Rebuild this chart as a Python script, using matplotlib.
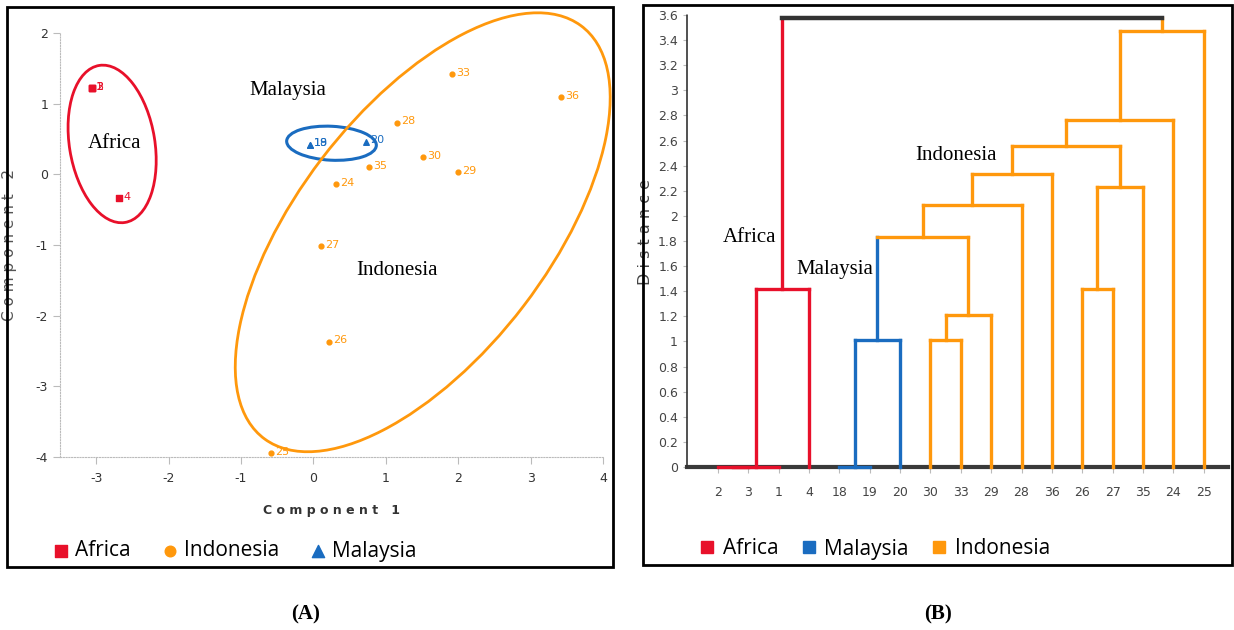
import numpy as np
import matplotlib.pyplot as plt
from matplotlib.patches import Ellipse, Rectangle
from matplotlib.lines import Line2D

plt.rcParams['axes.unicode_minus'] = False

RED = '#e8102a'
ORANGE = '#ff980c'
BLUE = '#1a6cc0'
group_colors = {'Africa': RED, 'Malaysia': BLUE, 'Indonesia': ORANGE, 'root': '#333333'}

# PCA scores (component 1, component 2)
africa_ids = ['1', '2', '3', '4']
africa_pc1 = [-3.06, -3.06, -3.06, -2.68]
africa_pc2 = [1.22, 1.22, 1.22, -0.34]

malaysia_ids = ['18', '19', '20']
malaysia_pc1 = [-0.05, -0.05, 0.73]
malaysia_pc2 = [0.42, 0.42, 0.46]

indonesia_ids = ['24', '25', '26', '27', '28', '29', '30', '33', '35', '36']
indonesia_pc1 = [0.31, -0.58, 0.22, 0.10, 1.16, 2.00, 1.52, 1.91, 0.77, 3.42]
indonesia_pc2 = [-0.14, -3.95, -2.37, -1.02, 0.73, 0.03, 0.24, 1.42, 0.10, 1.09]

# dendrogram leaves in plotting order
leaf_labels = ['2', '3', '1', '4', '18', '19', '20', '30', '33', '29',
               '28', '36', '26', '27', '35', '24', '25']
leaf_groups = ['Africa'] * 4 + ['Malaysia'] * 3 + ['Indonesia'] * 10

# merge steps: new node id = 17 + step index
link_left = [0, 17, 18, 4, 20, 7, 22, 21, 24, 25, 12, 27, 26, 29, 30, 19]
link_right = [1, 2, 3, 5, 6, 8, 9, 23, 10, 11, 13, 14, 28, 15, 16, 31]
link_dist = [0.0, 0.0, 1.42, 0.0, 1.01, 1.01, 1.21, 1.83, 2.09, 2.33,
             1.42, 2.23, 2.56, 2.76, 3.47, 3.58]
link_group = ['Africa', 'Africa', 'Africa', 'Malaysia', 'Malaysia',
              'Indonesia', 'Indonesia', 'Indonesia', 'Indonesia', 'Indonesia',
              'Indonesia', 'Indonesia', 'Indonesia', 'Indonesia', 'Indonesia',
              'root']

W, H = 1234, 630
fig = plt.figure(figsize=(W / 100, H / 100), dpi=100)

def fx(px):
    return px / W

def fy(py):
    return 1 - py / H

serif = 'Liberation Serif'
legend_font = {'family': 'Open Sans', 'size': 15}

# ---------------- (A) PCA scatter ----------------
ax1 = fig.add_axes([fx(60), fy(457), fx(603) - fx(60), fy(33) - fy(457)])
ax1.set_xlim(-3.5, 4)
ax1.set_ylim(-4, 2)

sc_af = ax1.scatter(africa_pc1, africa_pc2, marker='s', s=14, color=RED, zorder=3)
sc_in = ax1.scatter(indonesia_pc1, indonesia_pc2, marker='o', s=12, color=ORANGE, zorder=3)
sc_ma = ax1.scatter(malaysia_pc1, malaysia_pc2, marker='^', s=16, color=BLUE, zorder=3)

for ids, xs, ys, c in [(africa_ids, africa_pc1, africa_pc2, RED),
                       (malaysia_ids, malaysia_pc1, malaysia_pc2, BLUE),
                       (indonesia_ids, indonesia_pc1, indonesia_pc2, ORANGE)]:
    for t, x, y in zip(ids, xs, ys):
        ax1.annotate(t, (x, y), xytext=(3, 1), textcoords='offset points',
                     color=c, fontsize=8, va='center', ha='left')

ax1.add_patch(Ellipse((-2.78, 0.43), 2.25, 1.18, angle=99, fill=False,
                      ec=RED, lw=2, clip_on=False))
ax1.add_patch(Ellipse((0.25, 0.44), 1.24, 0.48, angle=-3, fill=False,
                      ec=BLUE, lw=2.2, clip_on=False))
ax1.add_patch(Ellipse((1.51, -0.82), 7.3, 3.48, angle=53.3, fill=False,
                      ec=ORANGE, lw=2, clip_on=False))

ax1.text(-2.75, 0.43, 'Africa', family=serif, fontsize=15, ha='center', va='center')
ax1.text(-0.35, 1.19, 'Malaysia', family=serif, fontsize=15, ha='center', va='center')
ax1.text(1.15, -1.36, 'Indonesia', family=serif, fontsize=15, ha='center', va='center')

for s in ['top', 'right']:
    ax1.spines[s].set_visible(False)
for s in ['left', 'bottom']:
    ax1.spines[s].set_linestyle((0, (1, 1.5)))
    ax1.spines[s].set_color('#bbbbbb')
    ax1.spines[s].set_linewidth(0.8)
ax1.set_xticks(range(-3, 5))
ax1.set_yticks(range(-4, 3))
ax1.tick_params(colors='#bbbbbb', labelcolor='#333333', labelsize=9, length=5, width=0.8)
ax1.tick_params(axis='x', pad=6)
ax1.set_xlabel('C o m p o n e n t   1', fontsize=9, fontweight='bold',
               color='#333333')
ax1.xaxis.set_label_coords(0.5, -0.11)
ax1.set_ylabel('C o m p o n e n t   2', fontsize=11, color='#555555')
ax1.yaxis.set_label_coords(-0.079, 0.5)
ax1.patch.set_alpha(0)

fig.legend(handles=[sc_af, sc_in, sc_ma], labels=['Africa', 'Indonesia', 'Malaysia'],
           loc='center left', bbox_to_anchor=(fx(54), fy(551)), ncol=3,
           frameon=False, markerscale=2.2, handlelength=0.7, handletextpad=0.3,
           columnspacing=1.55, borderpad=0, borderaxespad=0, prop=legend_font)

# ---------------- (B) dendrogram ----------------
ax2 = fig.add_axes([fx(687), fy(467), fx(1228) - fx(687), fy(15) - fy(467)])
n_leaf = len(leaf_labels)
node_x = list(range(n_leaf))
node_h = [0.0] * n_leaf
node_c = [group_colors[g] for g in leaf_groups]

for l, r, d, g in zip(link_left, link_right, link_dist, link_group):
    col = group_colors[g]
    for child in (l, r):
        ax2.plot([node_x[child], node_x[child]], [node_h[child], d],
                 color=node_c[child], lw=2.4, solid_capstyle='projecting',
                 clip_on=False, zorder=3)
    ax2.plot([node_x[l], node_x[r]], [d, d], color=col,
             lw=3.2 if g == 'root' else 2.4, solid_capstyle='projecting',
             clip_on=False, zorder=4 if d == 0 else 3)
    node_x.append((node_x[l] + node_x[r]) / 2)
    node_h.append(d)
    node_c.append(col)

ax2.set_xlim(-1.02, 16.8)
ax2.set_ylim(0, 3.6)
ax2.set_xticks(range(n_leaf))
ax2.set_xticklabels(leaf_labels)
ax2.set_yticks(np.arange(0, 3.61, 0.2))
ax2.set_yticklabels(['%g' % round(v, 1) for v in np.arange(0, 3.61, 0.2)])
for s in ['top', 'right']:
    ax2.spines[s].set_visible(False)
ax2.spines['left'].set_linestyle((0, (1, 1)))
ax2.spines['left'].set_color('#333333')
ax2.spines['left'].set_linewidth(1.2)
ax2.spines['bottom'].set_color('#3a3a3a')
ax2.spines['bottom'].set_linewidth(3)
ax2.spines['bottom'].set_zorder(2)
ax2.tick_params(colors='#bbbbbb', labelcolor='#444444', labelsize=9, length=3, width=0.8)
ax2.tick_params(axis='x', pad=10, length=4)
ax2.set_ylabel('D i s t a n c e', fontsize=11.5, color='#444444')
ax2.yaxis.set_label_coords(-0.063, 0.52)
ax2.patch.set_alpha(0)

ax2.text(1.05, 1.83, 'Africa', family=serif, fontsize=15, ha='center', va='center')
ax2.text(3.85, 1.57, 'Malaysia', family=serif, fontsize=15, ha='center', va='center')
ax2.text(7.85, 2.48, 'Indonesia', family=serif, fontsize=15, ha='center', va='center')

dendro_handles = [Line2D([], [], marker='s', ls='none', color=group_colors[g], markersize=9)
                  for g in ['Africa', 'Malaysia', 'Indonesia']]
fig.legend(handles=dendro_handles, labels=['Africa', 'Malaysia', 'Indonesia'],
           loc='center left', bbox_to_anchor=(fx(700), fy(549)), ncol=3,
           frameon=False, handlelength=0.7, handletextpad=0.4,
           columnspacing=1.1, borderpad=0, borderaxespad=0, prop=legend_font)

# panel frames and captions
fig.add_artist(Rectangle((fx(7), fy(567)), fx(613) - fx(7), fy(7) - fy(567),
                         transform=fig.transFigure, fill=False, ec='black', lw=2))
fig.add_artist(Rectangle((fx(643), fy(565)), fx(1232) - fx(643), fy(5) - fy(565),
                         transform=fig.transFigure, fill=False, ec='black', lw=2))
fig.text(fx(306), fy(614), '(A)', family=serif, fontweight='bold', fontsize=15,
         ha='center', va='center')
fig.text(fx(938), fy(614), '(B)', family=serif, fontweight='bold', fontsize=15,
         ha='center', va='center')

fig.savefig('out.png', dpi=100)
